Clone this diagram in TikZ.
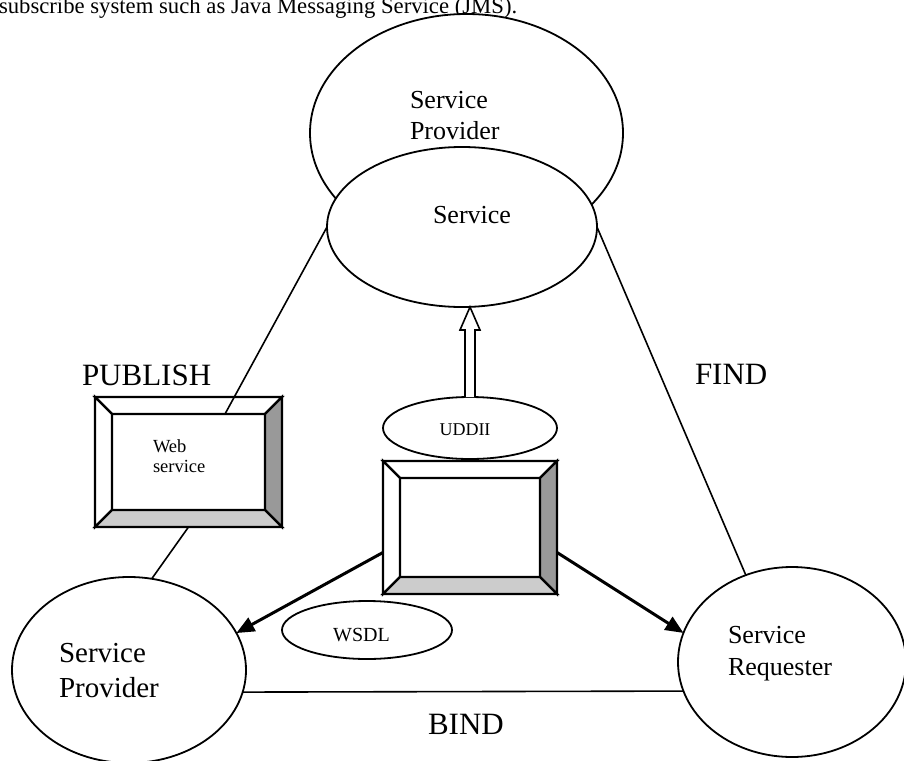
\documentclass[tikz,border=0pt]{standalone}
\usepackage{fontspec}
\setmainfont{Liberation Serif}
\usetikzlibrary{shapes.geometric,arrows.meta,calc}

\definecolor{bevdark}{HTML}{999999}
\definecolor{bevlight}{HTML}{CCCCCC}

% bevelled "screen" frame around a rectangular node
\newcommand\bevelframe[1]{%
  \coordinate (#1-a) at ($(#1.north west)+(17,17)$);
  \coordinate (#1-b) at ($(#1.north east)+(-17,17)$);
  \coordinate (#1-c) at ($(#1.south east)+(-17,-17)$);
  \coordinate (#1-d) at ($(#1.south west)+(17,-17)$);
  \draw[bev,fill=white] (#1.north west) -- (#1.north east) -- (#1-b) -- (#1-a) -- cycle;
  \draw[bev,fill=white] (#1.north west) -- (#1-a) -- (#1-d) -- (#1.south west) -- cycle;
  \draw[bev,fill=bevdark] (#1.north east) -- (#1.south east) -- (#1-c) -- (#1-b) -- cycle;
  \draw[bev,fill=bevlight] (#1.south west) -- (#1-d) -- (#1-c) -- (#1.south east) -- cycle;
  \draw[bev] (#1.north west) rectangle (#1.south east);
}

\tikzset{
  oval/.style={ellipse,draw,line width=1.8pt,fill=white,inner sep=0pt,outer sep=0pt},
  frame/.style={rectangle,inner sep=0pt,outer sep=0pt},
  bev/.style={line width=2.2pt,line join=miter},
  lbl/.style={inner sep=0pt,outer sep=0pt,align=left},
  link/.style={line width=1.6pt},
  push/.style={line width=3pt,-{Triangle[length=18pt,width=15pt]}},
}

\begin{document}
\begin{tikzpicture}[x=1pt,y=-1pt]
\clip (0,0) rectangle (904,760);
\fill[white] (0,0) rectangle (904,760);

% running text above the figure
\node[lbl,anchor=base west,font=\fontsize{22.7}{26}\selectfont] (hdr) at (-1,14)
  {subscribe system such as Java Messaging Service (JMS).};

% registry: provider with its service
\node[oval,minimum width=313,minimum height=238] (reg) at (466.5,133) {};
\node[lbl,anchor=base west,font=\fontsize{26}{31}\selectfont] (regtxt) at (410,139) {Service\\Provider};
\node[oval,minimum width=270,minimum height=160] (svc) at (462,227) {};
\node[lbl,anchor=base west,font=\fontsize{26}{31}\selectfont] (svctxt) at (433,223) {Service};

% the two parties
\node[oval,minimum width=234,minimum height=186] (sp) at (129,670) {};
\node[lbl,anchor=base west,font=\fontsize{29}{35}\selectfont] (sptxt) at (59,697) {Service\\Provider};
\node[oval,minimum width=228,minimum height=190] (sr) at (792,662) {};
\node[lbl,anchor=base west,font=\fontsize{26}{32}\selectfont] (srtxt) at (728,675) {Service\\Requester};

% description formats
\node[oval,minimum width=174,minimum height=62] (uddi) at (470,428) {};
\node[lbl,anchor=base,font=\fontsize{18}{21}\selectfont] (udditxt) at (465,435) {UDDII};
\node[oval,minimum width=170,minimum height=58] (wsdl) at (367,630) {};
\node[lbl,anchor=base,font=\fontsize{20}{23}\selectfont] (wsdltxt) at (361.5,641) {WSDL};

% screens
\node[frame,minimum width=187,minimum height=130] (ws) at (188.5,462) {};
\bevelframe{ws}
\node[lbl,anchor=base west,font=\fontsize{18.5}{19.5}\selectfont] (wstxt) at (153,472) {Web\\service};
\node[frame,minimum width=174,minimum height=133] (mid) at (470,527.5) {};
\bevelframe{mid}

% connectors
\coordinate (wsIn) at ($(ws.north west)+(130,17)$);
\draw[link] (svc.west) -- (wsIn);
\draw[link] (ws.south) -- (sp.76);
\draw[link] (svc.east) -- (sr.118);
\draw[link] (sp.-11) -- (sr.195.5);
\draw[push] (mid.196) -- (sp.19);
\draw[push] (mid.-16) -- (sr.165);

% hollow arrow from UDDII up to the service
\coordinate (tip) at (uddi.north |- svc.south);
\draw[line width=1.6pt,fill=white,line join=miter]
  ($(uddi.north)+(-5,0)$) -- ($(tip)+(-5,23)$) -- ($(tip)+(-10,23)$) -- (tip)
  -- ($(tip)+(10,23)$) -- ($(tip)+(5,23)$) -- ($(uddi.north)+(5,0)$);

% operation labels
\node[lbl,anchor=base west,font=\fontsize{31}{36}\selectfont] (pub) at (82,385) {PUBLISH};
\node[lbl,anchor=base west,font=\fontsize{31}{36}\selectfont] (find) at (695,384) {FIND};
\node[lbl,anchor=base west,font=\fontsize{31}{36}\selectfont] (bind) at (428,734) {BIND};
\end{tikzpicture}
\end{document}
